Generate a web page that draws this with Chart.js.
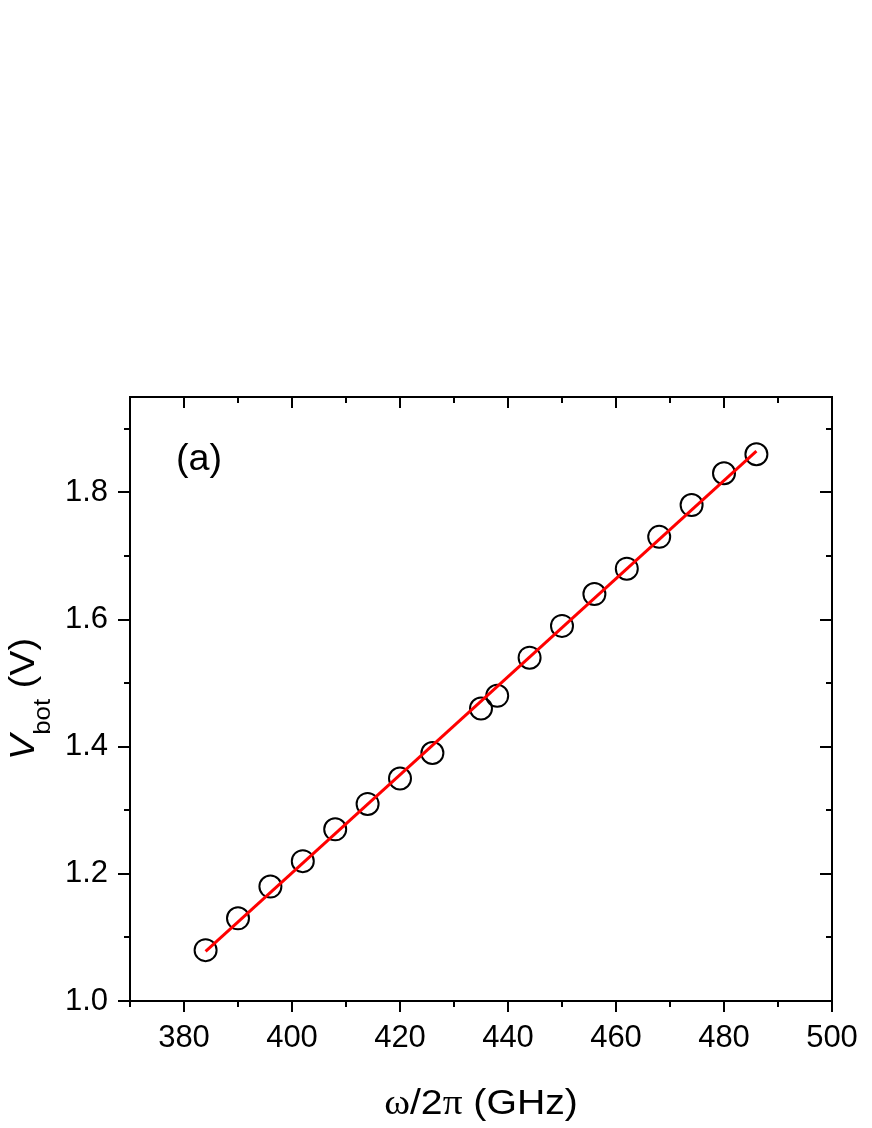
<!DOCTYPE html>
<html>
<head>
<meta charset="utf-8">
<script src="https://cdn.jsdelivr.net/npm/chart.js@4/dist/chart.umd.min.js"></script>
<style>
  html, body { margin: 0; padding: 0; background: #fff; }
  #wrap { width: 872px; height: 1128px; }
</style>
</head>
<body>
<div id="wrap"><canvas id="chart" width="872" height="1128"></canvas></div>
<script>
// measured points
const freq = [384, 390, 396, 402, 408, 414, 420, 426, 435, 438, 444, 450, 456, 462, 468, 474, 480, 486];
const vbot = [1.08, 1.13, 1.18, 1.22, 1.27, 1.31, 1.35, 1.39, 1.46, 1.48, 1.54, 1.59, 1.64, 1.68, 1.73, 1.78, 1.83, 1.86];

// linear fit (end points)
const fitX = [384, 486];
const fitY = [1.078, 1.865];

// ticks
const xMajor = [380, 400, 420, 440, 460, 480, 500];
const xMinor = [370, 390, 410, 430, 450, 470, 490];
const yMajor = [1.0, 1.2, 1.4, 1.6, 1.8];
const yMinor = [1.1, 1.3, 1.5, 1.7, 1.9];

const SANS = "'Liberation Sans', Arial, sans-serif";
const SERIF = "'Liberation Serif', 'Times New Roman', serif";

const isIn = (arr, v) => arr.some(a => Math.abs(a - v) < 1e-6);

// draws a row of text pieces [text, font, dy], stretched a little sideways
function drawRow(ctx, pieces, x, y, sx, centred) {
  let w = 0;
  pieces.forEach(p => { ctx.font = p[1]; w += ctx.measureText(p[0]).width; });
  ctx.save();
  ctx.translate(x, y);
  ctx.scale(sx, 1);
  let tx = centred ? -w / 2 : 0;
  pieces.forEach(p => {
    ctx.font = p[1];
    ctx.fillText(p[0], tx, p[2] || 0);
    tx += ctx.measureText(p[0]).width;
  });
  ctx.restore();
}

const frame = {
  id: "frame",
  afterDraw(chart) {
    const ctx = chart.ctx;
    const { left, right, top, bottom } = chart.chartArea;
    const x = chart.scales.x, y = chart.scales.y;
    ctx.save();
    ctx.strokeStyle = "#000";
    ctx.lineWidth = 2;
    ctx.strokeRect(left, top, right - left, bottom - top);

    ctx.beginPath();
    const xt = (v, len) => {
      const px = Math.round(x.getPixelForValue(v));
      ctx.moveTo(px, bottom); ctx.lineTo(px, bottom + len);
      ctx.moveTo(px, top); ctx.lineTo(px, top + len);
    };
    const yt = (v, len) => {
      const py = Math.round(y.getPixelForValue(v));
      ctx.moveTo(left, py); ctx.lineTo(left - len, py);
      ctx.moveTo(right, py); ctx.lineTo(right - len, py);
    };
    xMajor.forEach(v => xt(v, 11));
    xMinor.forEach(v => xt(v, 6));
    yMajor.forEach(v => yt(v, 12));
    yMinor.forEach(v => yt(v, 6));
    ctx.stroke();

    ctx.fillStyle = "#000";
    ctx.textBaseline = "alphabetic";
    ctx.textAlign = "left";

    // panel label
    drawRow(ctx, [["(a)", "37px " + SANS]], 176, 470, 1.02, false);

    // x title
    drawRow(ctx, [
      ["ω", "35px " + SERIF],
      ["/2", "35px " + SANS],
      ["π", "35px " + SERIF],
      [" (GHz)", "35px " + SANS]
    ], (left + right) / 2, 1114, 1.12, true);

    // y title, rotated
    ctx.save();
    ctx.translate(34, (top + bottom) / 2);
    ctx.rotate(-Math.PI / 2);
    drawRow(ctx, [
      ["V", "italic 35px " + SANS, 0],
      ["bot", "24px " + SANS, 16],
      [" (V)", "35px " + SANS, 0]
    ], 0, 0, 1.08, true);
    ctx.restore();
    ctx.restore();
  }
};

new Chart(document.getElementById("chart"), {
  type: "scatter",
  data: {
    datasets: [
      {
        type: "line",
        label: "fit",
        data: fitX.map((v, i) => ({ x: v, y: fitY[i] })),
        borderColor: "#ff0000",
        borderWidth: 3,
        pointRadius: 0,
        fill: false,
        order: 0
      },
      {
        label: "data",
        data: freq.map((v, i) => ({ x: v, y: vbot[i] })),
        pointStyle: "circle",
        pointRadius: 11,
        pointBorderWidth: 2,
        pointBorderColor: "#000",
        pointBackgroundColor: "rgba(0,0,0,0)",
        order: 1
      }
    ]
  },
  options: {
    responsive: false,
    animation: false,
    layout: { padding: { left: 0, top: 397, right: 40, bottom: 0 } },
    plugins: { legend: { display: false }, tooltip: { enabled: false } },
    scales: {
      x: {
        type: "linear",
        min: 370,
        max: 500,
        grid: { display: false, drawTicks: false },
        border: { display: false },
        ticks: {
          stepSize: 10,
          autoSkip: false,
          maxRotation: 0,
          padding: 19,
          color: "#000",
          font: { family: SANS, size: 31 },
          callback: v => isIn(xMajor, v) ? String(v) : ""
        },
        afterFit: s => { s.height = 127; s.paddingLeft = 0; s.paddingRight = 0; }
      },
      y: {
        type: "linear",
        min: 1.0,
        max: 1.95,
        grid: { display: false, drawTicks: false },
        border: { display: false },
        ticks: {
          stepSize: 0.1,
          autoSkip: false,
          padding: 22,
          color: "#000",
          font: { family: SANS, size: 31 },
          callback: v => isIn(yMajor, v) ? v.toFixed(1) : ""
        },
        afterFit: s => { s.width = 130; s.paddingTop = 0; s.paddingBottom = 0; }
      }
    }
  },
  plugins: [frame]
});
</script>
</body>
</html>
